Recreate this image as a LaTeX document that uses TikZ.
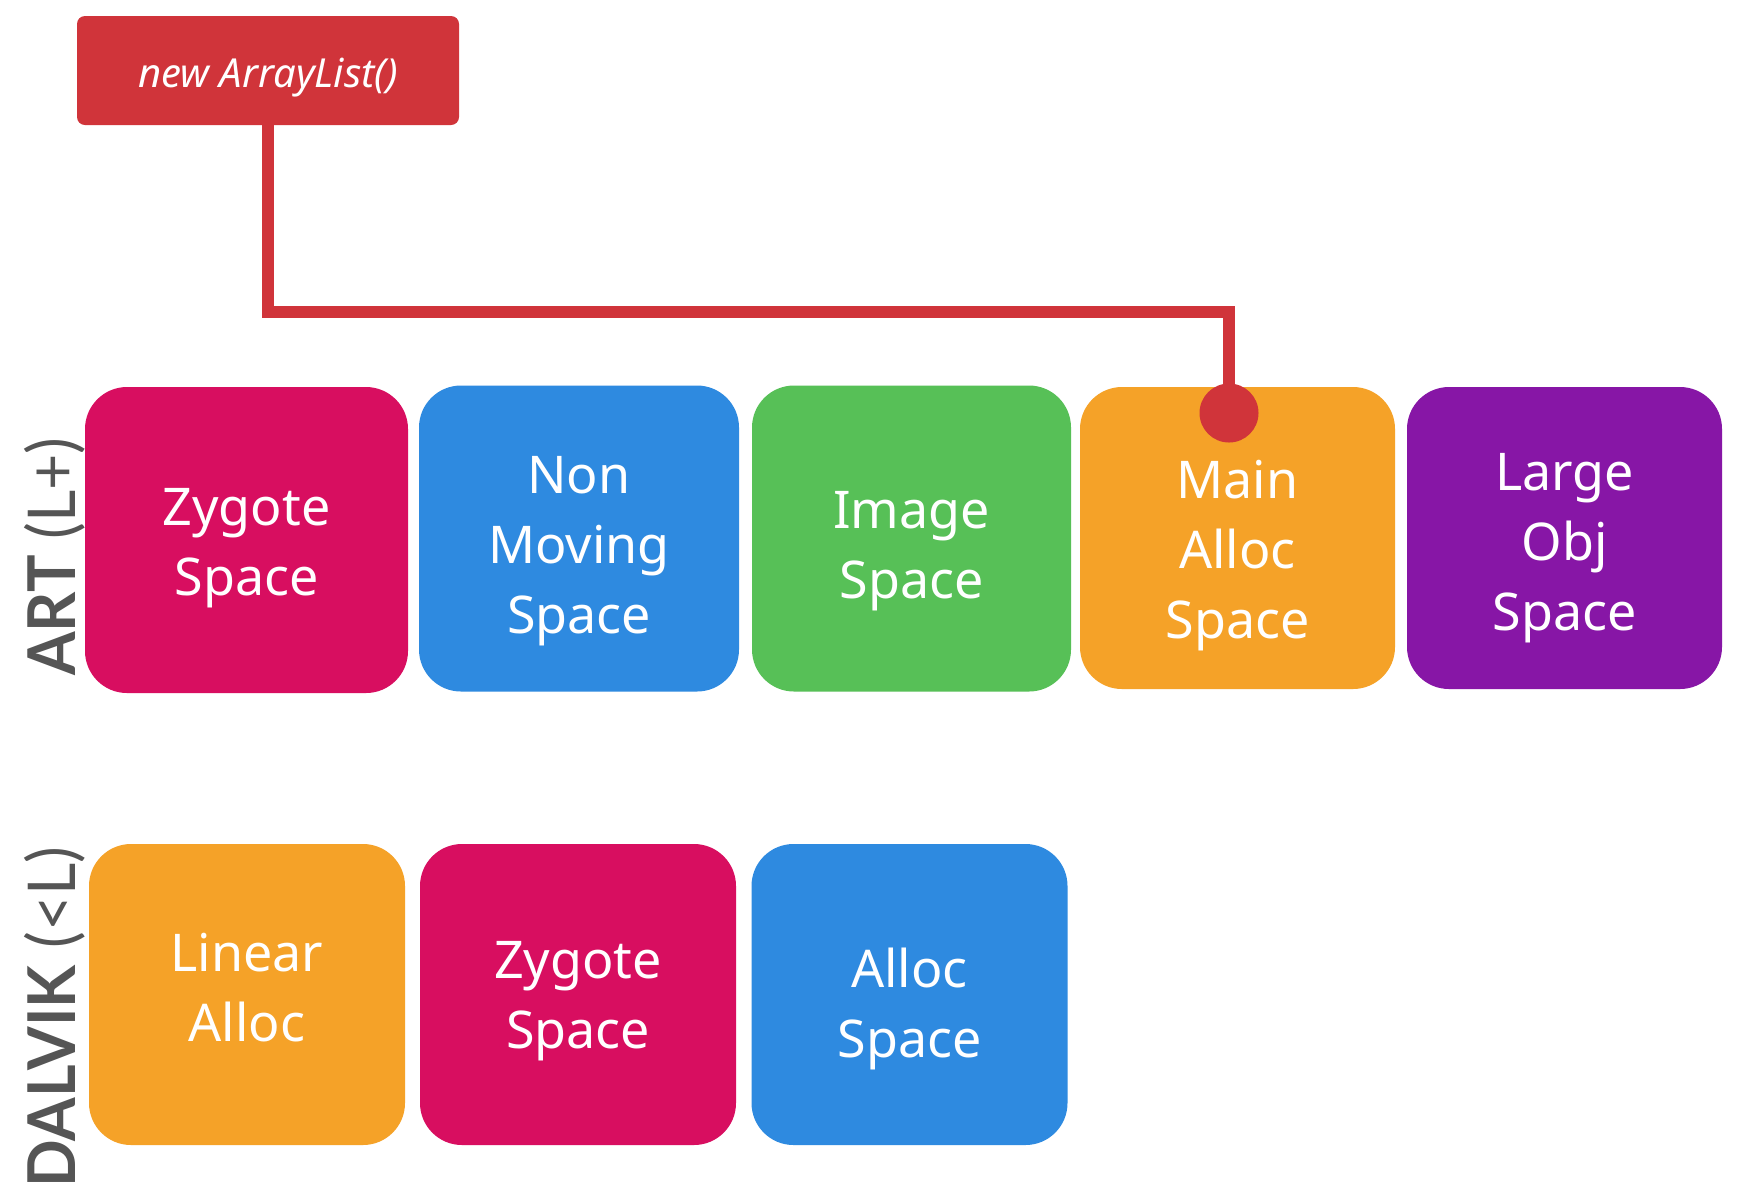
\documentclass[tikz,border=0pt]{standalone}
\usepackage{fontspec}
\setmainfont{Noto Sans}
\newfontfamily\lblfont{Lato}[FakeStretch=0.95]
\definecolor{cred}{HTML}{D0343A}
\definecolor{cpink}{HTML}{D80E60}
\definecolor{cblue}{HTML}{2E8AE0}
\definecolor{cgreen}{HTML}{57C057}
\definecolor{corange}{HTML}{F5A228}
\definecolor{cpurple}{HTML}{8716A6}
\definecolor{cgray}{HTML}{555555}
\begin{document}
\begin{tikzpicture}[x=0.5pt,y=-0.5pt,
  spacebox/.style={rectangle, rounded corners=21pt, inner sep=0pt, text=white, align=center,
    font=\fontsize{26}{35}\selectfont},
  fb/.style={text depth=0pt, text height=#1},
  artbox/.style={spacebox, minimum height=153pt},
  dvbox/.style={spacebox, minimum height=150.5pt, minimum width=158pt},
  rowlabel/.style={rotate=90, text=cgray, inner sep=0pt, anchor=base, font=\lblfont\fontsize{33}{33}\selectfont},
  conn/.style={draw=cred, line width=6pt},
  pin/.style={circle, fill=cred, minimum size=29.5pt, inner sep=0pt},
]
\fill[white] (0,0) rectangle (1750,1196);
% call box
\node[rectangle, rounded corners=4pt, fill=cred, minimum width=191pt, minimum height=54.5pt,
  text=white, font=\fontsize{20}{24}\selectfont\itshape, inner sep=0pt,
  text height=16.5pt, text depth=0pt] (arr) at (268,70.5) {new ArrayList()};
% ART row
\node[rowlabel] (artlbl) at (75,556.5) {\textbf{ART} (L+)};
\node[artbox, fill=cpink, minimum width=161.5pt, fb=55pt] (azyg) at (246.5,540) {Zygote\\Space};
\node[artbox, fill=cblue, minimum width=160pt, fb=95pt] (anon) at (579,538.5) {Non\\Moving\\Space};
\node[artbox, fill=cgreen, minimum width=159.5pt, fb=59.5pt] (aimg) at (911.5,538.5) {Image\\Space};
\node[artbox, fill=corange, minimum width=157.5pt, minimum height=151pt, fb=100pt] (amain) at (1237.5,538) {Main\\Alloc\\Space};
\node[artbox, fill=cpurple, minimum width=157.5pt, minimum height=151pt, fb=92.5pt] (alarge) at (1564.5,538) {Large\\Obj\\Space};
% DALVIK row
\node[rowlabel] (dvlbl) at (75,1017) {\textbf{DALVIK} (<L)};
\node[dvbox, fill=corange, fb=47.2pt] (dlin) at (247,994.5) {Linear\\Alloc};
\node[dvbox, fill=cpink, fb=53.5pt] (dzyg) at (578,994.5) {Zygote\\Space};
\node[dvbox, fill=cblue, fb=62.5pt] (dalloc) at (909.5,994.5) {Alloc\\Space};
% connector
\coordinate (dotc) at (1229,413);
\coordinate (bend) at (1229,312);
\draw[conn] (arr.south) |- (bend) -- (dotc);
\node[pin] (dot) at (dotc) {};
\end{tikzpicture}
\end{document}
